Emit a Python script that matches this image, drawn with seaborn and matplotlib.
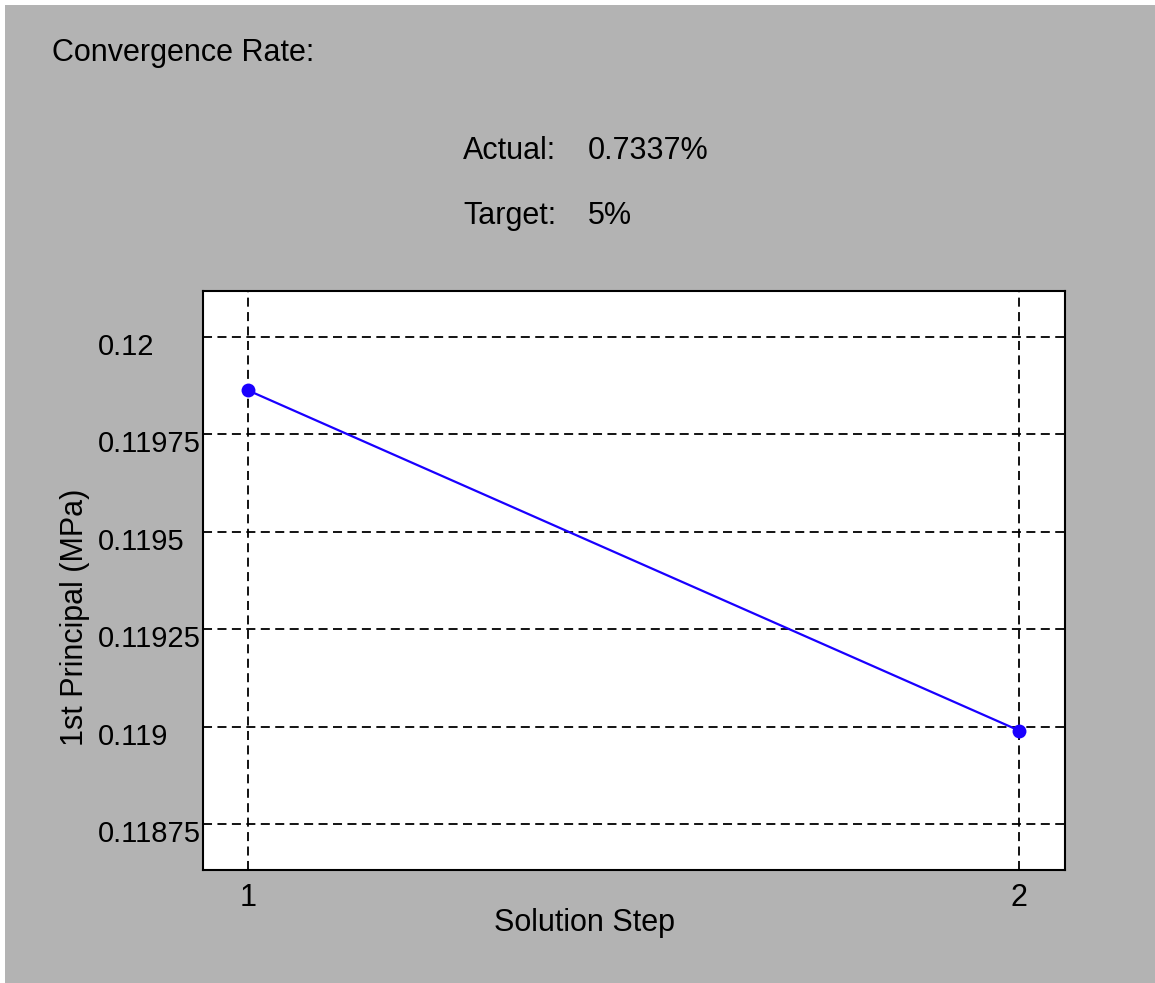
import seaborn as sns
import matplotlib.pyplot as plt
import pandas as pd
from matplotlib.patches import Rectangle
from matplotlib.transforms import ScaledTranslation


steps = [1, 2]
principal = [0.119863, 0.118990]
y_ticks = [0.11875, 0.119, 0.11925, 0.1195, 0.11975, 0.12]
y_labels = ["0.11875", "0.119", "0.11925", "0.1195", "0.11975", "0.12"]
x_ticks = [1, 2]
actual_rate = "0.7337%"
target_rate = "5%"

W, H = 1155, 983
FS = 22
sns.set_style("white")
plt.rcParams["font.family"] = ["Liberation Sans", "DejaVu Sans"]
plt.rcParams["text.color"] = "black"
plt.rcParams["axes.labelcolor"] = "black"

fig = plt.figure(figsize=(W / 100, H / 100), dpi=100, facecolor="#b3b3b3")
# thin white strip along top and left edge
fig.patches.append(Rectangle((0, 1 - 5 / H), 1, 5 / H, transform=fig.transFigure,
                             facecolor="white", edgecolor="none", zorder=-10))
fig.patches.append(Rectangle((0, 0), 5 / W, 1, transform=fig.transFigure,
                             facecolor="white", edgecolor="none", zorder=-10))

ax = fig.add_axes([203 / W, 1 - 870 / H, 862 / W, 579 / H])
df = pd.DataFrame({"step": steps, "value": principal})
sns.lineplot(data=df, x="step", y="value", ax=ax, color="#1a00ff", linewidth=1.6,
             marker="o", markersize=10, markeredgewidth=0, zorder=5)

ax.set_xlim(0.9416, 2.0597)
ax.set_ylim(0.118632, 0.120118)
ax.set_xticks(x_ticks)
ax.set_xticklabels([str(t) for t in x_ticks])
ax.set_yticks(y_ticks)
ax.set_yticklabels(y_labels, ha="left")
ax.tick_params(axis="both", length=0, labelsize=FS, colors="black")
ax.tick_params(axis="y", pad=(203 - 98) * 0.72, labelsize=21)
ax.tick_params(axis="x", pad=9)
# y labels sit a little below their grid lines
for lab in ax.get_yticklabels():
    lab.set_transform(lab.get_transform() + ScaledTranslation(0, -7 / 100, fig.dpi_scale_trans))
ax.grid(True, color="black", linestyle=(0, (5, 3)), linewidth=1.3)
ax.set_facecolor("white")
for s in ax.spines.values():
    s.set_visible(True)
    s.set_color("black")
    s.set_linewidth(1.5)

ax.set_xlabel("Solution Step", fontsize=FS, va="center")
ax.xaxis.set_label_coords((584 - 203) / 862, -(923 - 870) / 579)
ax.set_ylabel("1st Principal (MPa)", fontsize=FS, va="center")
ax.yaxis.set_label_coords((75 - 203) / 862, (870 - 617) / 579)

fig.text(52 / W, 1 - 53 / H, "Convergence Rate:", fontsize=FS, va="center", ha="left")
fig.text(463 / W, 1 - 151 / H, "Actual:", fontsize=FS, va="center", ha="left")
fig.text(588 / W, 1 - 151 / H, actual_rate, fontsize=FS, va="center", ha="left")
fig.text(463 / W, 1 - 216 / H, "Target:", fontsize=FS, va="center", ha="left")
fig.text(588 / W, 1 - 216 / H, target_rate, fontsize=FS, va="center", ha="left")

plt.savefig("out.png", dpi=100, facecolor=fig.get_facecolor())
